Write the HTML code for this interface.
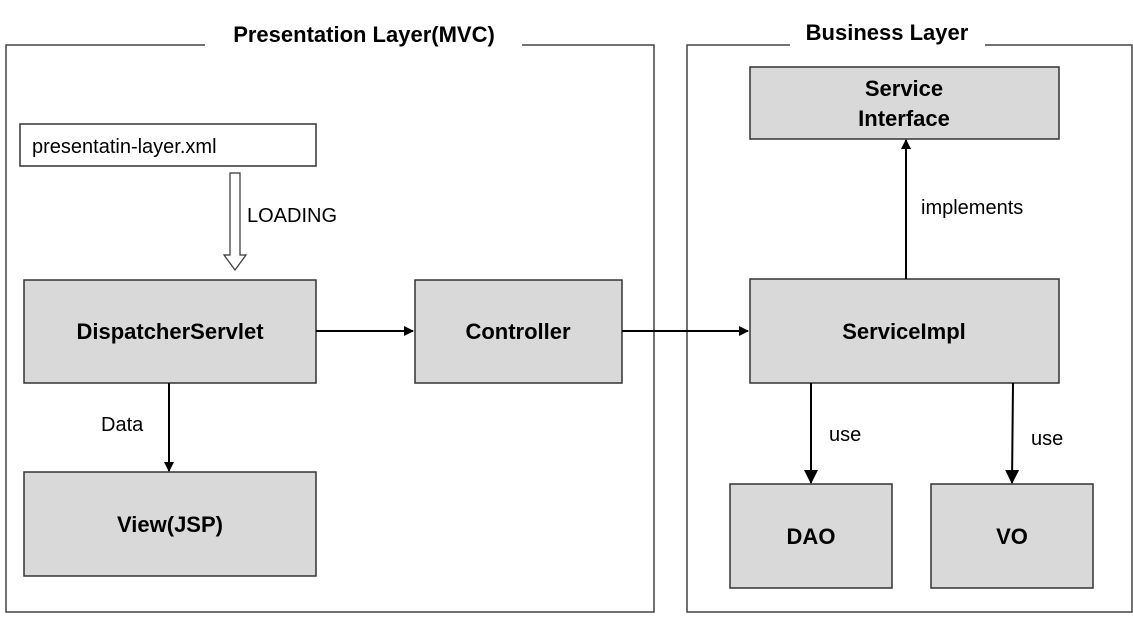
<!DOCTYPE html>
<html><head><meta charset="utf-8"><style>
body{margin:0;background:#fff;}
svg text{font-family:"Liberation Sans","Noto Sans CJK KR",sans-serif;}
</style></head><body>
<svg width="1133" height="635" viewBox="0 0 1133 635" xmlns="http://www.w3.org/2000/svg">
<defs>
<marker id="a" markerWidth="10" markerHeight="10" refX="9" refY="5" orient="auto" markerUnits="userSpaceOnUse"><path d="M0,0 L10,5 L0,10 z" fill="#000"/></marker>
<marker id="b" markerWidth="14" markerHeight="14" refX="13" refY="7" orient="auto" markerUnits="userSpaceOnUse"><path d="M0,0 L14,7 L0,14 z" fill="#000"/></marker>
</defs>
<g fill="none" stroke="#444" stroke-width="1.5">
<path d="M205,45 H6 V612 H654 V45 H522"/>
<path d="M790,45 H687 V612 H1132 V45 H985"/>
</g>
<text x="364" y="42" font-size="22" font-weight="bold" text-anchor="middle">Presentation Layer(MVC)</text>
<text x="887" y="40" font-size="22" font-weight="bold" text-anchor="middle">Business Layer</text>
<g stroke="#333" stroke-width="1.5">
<rect x="20" y="124" width="296" height="42" fill="#fff"/>
<rect x="24" y="280" width="292" height="103" fill="#d9d9d9"/>
<rect x="415" y="280" width="207" height="103" fill="#d9d9d9"/>
<rect x="24" y="472" width="292" height="104" fill="#d9d9d9"/>
<rect x="750" y="67" width="309" height="72" fill="#d9d9d9"/>
<rect x="750" y="279" width="309" height="104" fill="#d9d9d9"/>
<rect x="730" y="484" width="162" height="104" fill="#d9d9d9"/>
<rect x="931" y="484" width="162" height="104" fill="#d9d9d9"/>
</g>
<path d="M230,173 H240 V255 H246 L235,270 L224,255 H230 Z" fill="#fff" stroke="#333" stroke-width="1.2"/>
<g stroke="#000" stroke-width="2" fill="none">
<line x1="316" y1="331" x2="413" y2="331" marker-end="url(#a)"/>
<line x1="622" y1="331" x2="748" y2="331" marker-end="url(#a)"/>
<line x1="169" y1="383" x2="169" y2="471" marker-end="url(#a)"/>
<line x1="906" y1="279" x2="906" y2="140" marker-end="url(#a)"/>
<line x1="811" y1="383" x2="811" y2="483" marker-end="url(#b)"/>
<line x1="1013" y1="383" x2="1012" y2="483" marker-end="url(#b)"/>
</g>
<text x="32" y="153" font-size="20">presentatin-layer.xml</text>
<text x="247" y="222" font-size="20">LOADING</text>
<text x="101" y="431" font-size="20">Data</text>
<text x="921" y="214" font-size="20">implements</text>
<text x="829" y="441" font-size="20">use</text>
<text x="1031" y="445" font-size="20">use</text>
<g font-size="22" font-weight="bold" text-anchor="middle">
<text x="170" y="339">DispatcherServlet</text>
<text x="518" y="339">Controller</text>
<text x="170" y="532">View(JSP)</text>
<text x="904" y="96">Service</text>
<text x="904" y="126">Interface</text>
<text x="904" y="339">ServiceImpl</text>
<text x="811" y="544">DAO</text>
<text x="1012" y="544">VO</text>
</g>
</svg>
</body></html>
